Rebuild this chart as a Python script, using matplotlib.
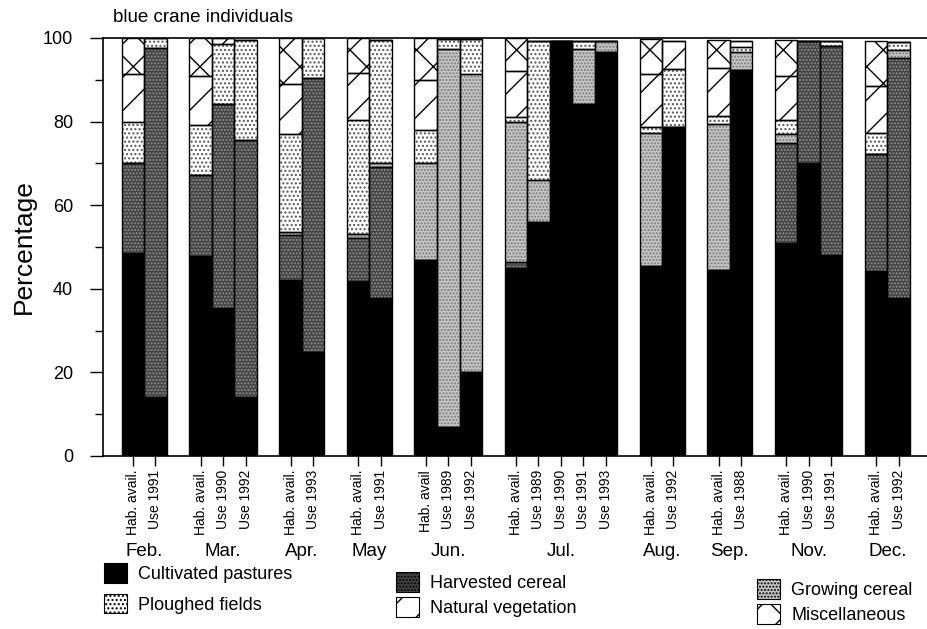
import matplotlib
matplotlib.use("Agg")
import matplotlib.pyplot as plt
import numpy as np
from matplotlib.patches import Patch

plt.rcParams['font.family'] = ['Liberation Sans', 'DejaVu Sans']
plt.rcParams['hatch.linewidth'] = 1.0

months = ['Feb.', 'Mar.', 'Apr.', 'May', 'Jun.', 'Jul.', 'Aug.', 'Sep.', 'Nov.', 'Dec.']
bar_labels = [
    ['Hab. avail.', 'Use 1991'],
    ['Hab. avail.', 'Use 1990', 'Use 1992'],
    ['Hab. avail.', 'Use 1993'],
    ['Hab. avail.', 'Use 1991'],
    ['Hab. avail', 'Use 1989', 'Use 1992'],
    ['Hab. avail.', 'Use 1989', 'Use 1990', 'Use 1991', 'Use 1993'],
    ['Hab. avail.', 'Use 1992'],
    ['Hab. avail.', 'Use 1988'],
    ['Hab. avail.', 'Use 1990', 'Use 1991'],
    ['Hab. avail.', 'Use 1992'],
]
categories = ['Cultivated pastures', 'Harvested cereal', 'Growing cereal',
              'Ploughed fields', 'Natural vegetation', 'Miscellaneous']

# values per bar, in order of bar_labels (flattened)
cultivated = [48.5, 14, 47.8, 35.5, 14, 42, 25, 41.8, 37.8, 47, 7, 20,
              45, 56, 99.3, 84.3, 96.6, 45.5, 78.7, 44.5, 92.3, 51, 70.2, 48.2, 44.3, 37.7]
harvested = [21.5, 83.5, 19.5, 48.8, 61.5, 10.9, 65.5, 10.4, 31.3, 0, 0, 0,
             1.5, 0, 0, 0, 0, 0, 0, 0, 0, 24, 29.2, 50, 28, 57.6]
growing = [0, 0, 0, 0, 0, 0.6, 0, 0.8, 0.9, 23, 90.4, 71.4,
           33.5, 10, 0, 13, 2.7, 31.7, 0, 34.9, 4.4, 2, 0, 0, 0, 1.8]
ploughed = [10, 2.5, 12, 14.3, 24, 23.5, 9.5, 27.3, 29.6, 8, 2.4, 8.4,
            1, 33.3, 0, 2, 0, 1.5, 14, 2, 1.2, 3.3, 0, 1, 5, 2]
natural = [11.5, 0, 11.7, 1.4, 0, 12, 0, 11.3, 0, 12, 0, 0,
           11, 0, 0, 0, 0, 12.6, 6.7, 11.5, 1.4, 10.7, 0, 0, 11.3, 0]
misc = [8.5, 0, 9, 0, 0, 11, 0, 8.4, 0, 10, 0, 0,
        8, 0, 0, 0, 0, 8.4, 0, 6.6, 0, 8.6, 0, 0, 10.8, 0]

series = [cultivated, harvested, growing, ploughed, natural, misc]
styles = [
    dict(face='black', hatch=None, hc='black'),
    dict(face='#444444', hatch='.....', hc='#8f8f8f'),
    dict(face='#c4c4c4', hatch='.....', hc='#7a7a7a'),
    dict(face='white', hatch='....', hc='#555555'),
    dict(face='white', hatch='/', hc='black'),
    dict(face='white', hatch='x', hc='black'),
]

# bar positions: groups separated by one empty slot
positions, tick_labels, group_centers = [], [], []
p = 0
for labs in bar_labels:
    start = p
    for lab in labs:
        positions.append(p)
        tick_labels.append(lab)
        p += 1
    group_centers.append((start + p - 1) / 2)
    p += 1
positions = np.array(positions, dtype=float)

fig = plt.figure(figsize=(9.28, 6.29), dpi=100)
ax = fig.add_axes([103 / 928, 1 - 456 / 629, 825 / 928, (456 - 38) / 629])

bottom = np.zeros(len(positions))
for vals, st in zip(series, styles):
    vals = np.array(vals, dtype=float)
    ax.bar(positions, vals, width=1.0, bottom=bottom, color=st['face'],
           hatch=st['hatch'], edgecolor=st['hc'], linewidth=0, zorder=2)
    ax.bar(positions, vals, width=1.0, bottom=bottom, fill=False,
           edgecolor='black', linewidth=1.0, zorder=3)
    bottom += vals

ax.set_xlim(-1.33, 35.3)
ax.set_ylim(0, 100)
ax.spines['right'].set_visible(False)
for s in ['left', 'top', 'bottom']:
    ax.spines[s].set_linewidth(1.2)

ax.set_yticks([0, 20, 40, 60, 80, 100])
ax.set_yticks([10, 30, 50, 70, 90], minor=True)
ax.tick_params(axis='y', which='major', length=9.5, width=1, labelsize=13, pad=12)
ax.tick_params(axis='y', which='minor', length=6, width=1)
fig.text(24 / 928, 1 - 247 / 629, 'Percentage', rotation=90, fontsize=19,
         ha='center', va='center')

ax.set_xticks(positions)
ax.set_xticklabels(tick_labels, rotation=90, fontsize=10)
ax.tick_params(axis='x', length=7, width=1, pad=3)

for c, m in zip(group_centers, months):
    ax.text(c, -22.8, m, ha='center', va='center', fontsize=13.5,
            transform=ax.transData)

ax.text(0.012, 1.05, 'blue crane individuals', transform=ax.transAxes,
        fontsize=13.5, ha='left', va='center')

handles = []
for cat, st in zip(categories, styles):
    handles.append(Patch(facecolor=st['face'], hatch=st['hatch'], edgecolor='black',
                         linewidth=0.8, label=cat))

leg_kw = dict(frameon=False, fontsize=13, handlelength=1.3, handleheight=1.3,
              handletextpad=0.6, borderaxespad=0, borderpad=0)
l1 = fig.legend([handles[0], handles[3]], [categories[0], categories[3]],
                loc='upper left', bbox_to_anchor=(104 / 928, 1 - 563 / 629),
                labelspacing=0.6, **leg_kw)
l2 = fig.legend([handles[1], handles[4]], [categories[1], categories[4]],
                loc='upper left', bbox_to_anchor=(396 / 928, 1 - 572 / 629),
                labelspacing=0.3, **leg_kw)
l3 = fig.legend([handles[2], handles[5]], [categories[2], categories[5]],
                loc='upper left', bbox_to_anchor=(757 / 928, 1 - 579 / 629),
                labelspacing=0.3, **leg_kw)

fig.savefig('out.png', dpi=100)
